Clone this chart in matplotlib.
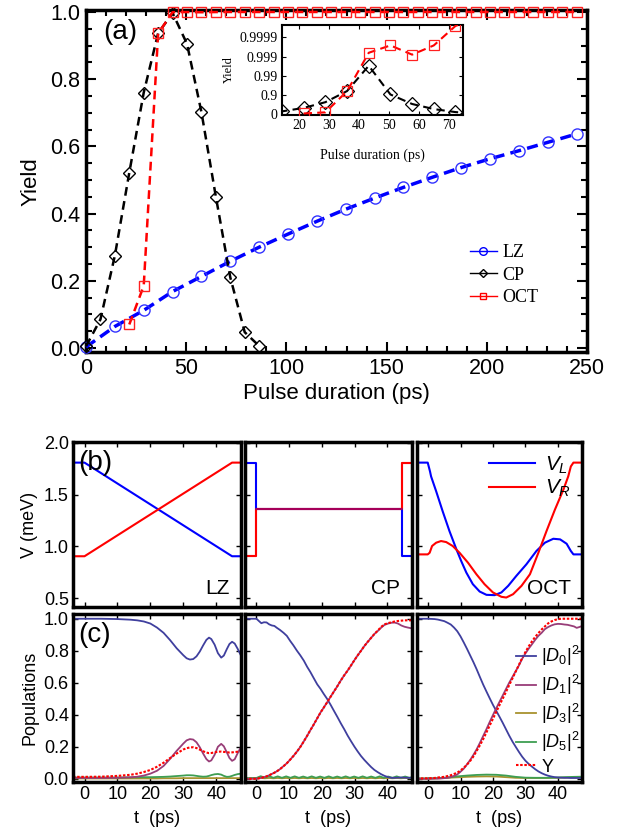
import numpy as np
import matplotlib
matplotlib.use('Agg')
import matplotlib.pyplot as plt
from matplotlib.lines import Line2D
from matplotlib.ticker import MultipleLocator, NullLocator

plt.rcParams['font.family'] = ['Liberation Sans', 'DejaVu Sans']
plt.rcParams['mathtext.fontset'] = 'custom'
plt.rcParams['mathtext.rm'] = 'Liberation Sans'
plt.rcParams['mathtext.it'] = 'Liberation Sans:italic'

# ---------------- panel (a): yield vs pulse duration ----------------
lz_x = [0, 14.4, 28.8, 43.2, 57.6, 72, 86.4, 100.8, 115.2, 129.6, 144, 158.4,
        172.8, 187.2, 201.6, 216, 230.4, 244.8]
lz_y = [0.003, 0.064, 0.112, 0.168, 0.213, 0.258, 0.300, 0.339, 0.377, 0.413,
        0.446, 0.478, 0.508, 0.537, 0.563, 0.587, 0.612, 0.637]

cp_x = [0, 7.2, 14.4, 21.6, 28.8, 36, 43.2, 50.4, 57.6, 64.8, 72, 79.2, 86.4]
cp_y = [0.005, 0.085, 0.275, 0.522, 0.760, 0.937, 0.997, 0.905, 0.702, 0.450,
        0.210, 0.047, 0.006]

oct_x = [21.6, 28.8, 36, 43.2, 50.4, 57.6, 64.8, 72, 79.2, 86.4, 93.6, 100.8,
         108, 115.2, 122.4, 129.6, 136.8, 144, 151.2, 158.4, 165.6, 172.8, 180,
         187.2, 194.4, 201.6, 208.8, 216, 223.2, 230.4, 237.6, 244.8]
oct_y = [0.070, 0.185, 0.936, 0.99937, 0.99974, 0.99921, 0.99974, 0.999975,
         0.99999, 0.99999, 0.99999, 0.99999, 0.99999, 0.99999, 0.99999, 0.99999,
         0.99999, 0.99999, 0.99999, 0.99999, 0.99999, 0.99999, 0.99999, 0.99999,
         0.99999, 0.99999, 0.99999, 0.99999, 0.99999, 0.99999, 0.99999, 0.99999]

# ---------------- panel (b): gate voltages ----------------
t_lz_v = [-3.5, 0, 44.8, 47.5]
vl_lz = [1.81, 1.81, 0.905, 0.905]
vr_lz = [0.905, 0.905, 1.81, 1.81]

t_cp_v = [-3.5, 0, 0, 44.6, 44.6, 47.5]
vl_cp = [1.81, 1.81, 1.36, 1.36, 0.905, 0.905]
vr_cp = [0.905, 0.905, 1.36, 1.36, 1.81, 1.81]

t_oct_vl = [-3.5, -0.1, 0.6, 0.93, 2.5, 4.5, 6.6, 8.7, 10.2, 11.8, 13.8, 15.9,
            18.0, 20.5, 22.6, 24.7, 27.2, 30.3, 33.4, 36.0, 38.6, 40.7, 42.7,
            44.0, 44.8, 47.5]
vl_oct = [1.81, 1.81, 1.725, 1.677, 1.533, 1.34, 1.148, 0.975, 0.86, 0.747,
          0.635, 0.564, 0.532, 0.529, 0.555, 0.619, 0.715, 0.827, 0.956, 1.036,
          1.074, 1.068, 1.026, 0.956, 0.923, 0.923]
t_oct_vr = [-3.5, -0.1, 0.5, 1.24, 2.5, 4.0, 5.6, 7.6, 9.7, 12.3, 14.9, 17.4,
            20.0, 22.6, 24.1, 26.2, 28.8, 31.4, 34.0, 36.5, 39.1, 41.7, 43.2,
            44.0, 44.8, 47.5]
vr_oct = [0.923, 0.923, 0.939, 1.004, 1.036, 1.052, 1.042, 1.004, 0.939, 0.843,
          0.731, 0.635, 0.555, 0.513, 0.506, 0.538, 0.619, 0.731, 0.939, 1.148,
          1.356, 1.548, 1.677, 1.773, 1.81, 1.81]

# ---------------- panel (c): populations ----------------
t_lz = [-3.5, 0, 5, 10, 14, 16, 18, 20, 22, 24, 26, 28, 30, 31, 32, 33, 34, 35,
        36, 37, 37.8, 38.5, 39.5, 40.5, 41.5, 42.3, 43.2, 44, 44.8, 45.6, 46.5,
        47.5]
d0_lz = [1.0, 1.0, 1.0, 0.998, 0.994, 0.99, 0.983, 0.97, 0.945, 0.912, 0.866,
         0.815, 0.772, 0.753, 0.745, 0.748, 0.765, 0.795, 0.833, 0.868, 0.882,
         0.873, 0.838, 0.785, 0.757, 0.77, 0.81, 0.842, 0.856, 0.845, 0.812,
         0.77]
d1_lz = [0.005, 0.005, 0.005, 0.006, 0.009, 0.013, 0.02, 0.032, 0.05, 0.08,
         0.125, 0.175, 0.22, 0.24, 0.248, 0.245, 0.228, 0.197, 0.158, 0.123,
         0.108, 0.115, 0.15, 0.2, 0.218, 0.203, 0.165, 0.13, 0.112, 0.122, 0.16,
         0.198]
y_lz = [0.012, 0.012, 0.013, 0.018, 0.025, 0.032, 0.042, 0.055, 0.075, 0.1,
        0.13, 0.158, 0.183, 0.191, 0.196, 0.197, 0.192, 0.182, 0.172, 0.164,
        0.16, 0.161, 0.165, 0.169, 0.17, 0.168, 0.166, 0.164, 0.165, 0.167,
        0.169, 0.17]
d3_lz = [0.002, 0.002, 0.002, 0.002, 0.002, 0.002, 0.002, 0.002, 0.002, 0.003,
         0.003, 0.003, 0.004, 0.004, 0.004, 0.004, 0.004, 0.004, 0.004, 0.004,
         0.004, 0.004, 0.004, 0.004, 0.004, 0.004, 0.004, 0.004, 0.004, 0.004,
         0.004, 0.004]
d5_lz = [0.008, 0.008, 0.008, 0.008, 0.009, 0.009, 0.01, 0.01, 0.011, 0.012,
         0.014, 0.017, 0.02, 0.022, 0.022, 0.021, 0.018, 0.015, 0.013, 0.014,
         0.018, 0.023, 0.028, 0.03, 0.026, 0.018, 0.012, 0.013, 0.018, 0.024,
         0.029, 0.032]

t_cp = [-3.5, 0, 0.8, 1.5, 2.3, 3.1, 3.9, 4.7, 5.5, 6.2, 7.2, 8.3, 9.3, 10.3,
        11.3, 12.4, 13.4, 14.5, 15.5, 16.5, 17.5, 18.6, 19.6, 20.6, 21.6, 22.7,
        23.7, 24.8, 25.8, 26.9, 27.9, 28.9, 30.0, 31.0, 32.0, 33.0, 34.1, 35.1,
        36.1, 37.2, 38.2, 39.2, 40.3, 41.3, 42.3, 43.3, 44.3, 45.3, 46.3, 47.5]
d0_cp = [1.0, 1.0, 0.985, 0.972, 0.978, 0.977, 0.965, 0.958, 0.955, 0.944, 0.93,
         0.912, 0.893, 0.862, 0.834, 0.8, 0.772, 0.738, 0.7, 0.667, 0.63, 0.59,
         0.562, 0.53, 0.5, 0.462, 0.425, 0.385, 0.347, 0.308, 0.27, 0.236, 0.2,
         0.17, 0.142, 0.118, 0.094, 0.073, 0.055, 0.04, 0.028, 0.018, 0.01,
         0.006, 0.006, 0.007, 0.008, 0.007, 0.006, 0.006]
d1_cp = [0.0, 0.0, 0.003, 0.006, 0.01, 0.015, 0.022, 0.03, 0.038, 0.046, 0.06,
         0.079, 0.097, 0.119, 0.142, 0.17, 0.198, 0.234, 0.268, 0.304, 0.338,
         0.378, 0.414, 0.445, 0.477, 0.513, 0.545, 0.58, 0.614, 0.648, 0.676,
         0.707, 0.742, 0.772, 0.8, 0.829, 0.857, 0.881, 0.905, 0.925, 0.945,
         0.962, 0.97, 0.975, 0.976, 0.97, 0.958, 0.95, 0.945, 0.94]
y_cp = [0.0, 0.0, 0.003, 0.006, 0.01, 0.015, 0.022, 0.03, 0.038, 0.046, 0.06,
        0.079, 0.097, 0.119, 0.142, 0.17, 0.198, 0.234, 0.268, 0.304, 0.338,
        0.378, 0.414, 0.445, 0.477, 0.513, 0.545, 0.58, 0.614, 0.648, 0.676,
        0.707, 0.742, 0.772, 0.8, 0.829, 0.857, 0.881, 0.905, 0.928, 0.95, 0.965,
        0.973, 0.978, 0.983, 0.986, 0.988, 0.99, 0.99, 0.99]
t_cp_w = [-3.5, 0, 1.3, 2.6, 3.9, 5.2, 6.5, 7.8, 9.1, 10.4, 11.7, 13.0, 14.3,
          15.6, 16.9, 18.2, 19.5, 20.8, 22.1, 23.4, 24.7, 26.0, 27.3, 28.6,
          29.9, 31.2, 32.5, 33.8, 35.1, 36.4, 37.7, 39.0, 40.3, 41.6, 42.9,
          44.2, 45.5, 46.8, 47.5]
d5_cp = [0.004, 0.005, 0.016, 0.007, 0.016, 0.006, 0.015, 0.006, 0.015, 0.006,
         0.015, 0.006, 0.014, 0.006, 0.015, 0.006, 0.014, 0.006, 0.015, 0.006,
         0.014, 0.006, 0.015, 0.006, 0.014, 0.006, 0.015, 0.006, 0.014, 0.006,
         0.015, 0.006, 0.014, 0.006, 0.015, 0.006, 0.014, 0.006, 0.01]
d3_cp = [0.002, 0.002, 0.005, 0.003, 0.005, 0.003, 0.005, 0.003, 0.005, 0.003,
         0.005, 0.003, 0.005, 0.003, 0.005, 0.003, 0.005, 0.003, 0.005, 0.003,
         0.005, 0.003, 0.005, 0.003, 0.005, 0.003, 0.005, 0.003, 0.005, 0.003,
         0.005, 0.003, 0.005, 0.003, 0.005, 0.003, 0.005, 0.003, 0.004]

t_oct = [-3.5, 0, 2, 3, 4, 5, 6, 7, 8, 9, 10, 11, 12, 13, 14, 15, 16, 17, 18, 19,
         20, 21, 22, 23, 24, 25, 26, 27, 28, 29, 30, 31, 32, 33, 34, 35, 36, 37,
         38, 39, 40, 41, 42, 43, 44, 45, 45.8, 46.6, 47.5]
d0_oct = [1.0, 1.0, 0.998, 0.995, 0.99, 0.985, 0.975, 0.964, 0.945, 0.922, 0.89,
          0.852, 0.812, 0.77, 0.728, 0.683, 0.635, 0.588, 0.545, 0.503, 0.462,
          0.425, 0.388, 0.35, 0.31, 0.27, 0.233, 0.2, 0.168, 0.138, 0.113, 0.093,
          0.076, 0.06, 0.046, 0.035, 0.026, 0.019, 0.014, 0.01, 0.008, 0.007,
          0.006, 0.006, 0.005, 0.005, 0.005, 0.005, 0.005]
d1_oct = [0.0, 0.0, 0.001, 0.001, 0.002, 0.004, 0.006, 0.01, 0.018, 0.027,
          0.044, 0.063, 0.09, 0.118, 0.15, 0.185, 0.225, 0.268, 0.31, 0.355,
          0.398, 0.44, 0.48, 0.52, 0.56, 0.6, 0.636, 0.672, 0.708, 0.75, 0.783,
          0.813, 0.84, 0.868, 0.893, 0.912, 0.935, 0.948, 0.958, 0.965, 0.968,
          0.967, 0.964, 0.962, 0.957, 0.952, 0.943, 0.948, 0.955]
y_oct = [0.002, 0.003, 0.005, 0.008, 0.01, 0.012, 0.017, 0.022, 0.03, 0.038,
         0.052, 0.069, 0.088, 0.112, 0.14, 0.175, 0.21, 0.248, 0.29, 0.333,
         0.375, 0.417, 0.46, 0.5, 0.542, 0.585, 0.627, 0.669, 0.712, 0.754, 0.792,
         0.827, 0.858, 0.886, 0.91, 0.933, 0.952, 0.971, 0.983, 0.992, 0.997,
         1.0, 1.0, 1.0, 1.0, 1.0, 1.0, 1.0, 1.0]
t_oct_s = [-3.5, 0, 3, 6, 9, 12, 15, 18, 21, 24, 27, 30, 33, 36, 39, 42, 45, 47.5]
d3_oct = [0.001, 0.001, 0.003, 0.006, 0.009, 0.012, 0.014, 0.015, 0.014, 0.01,
          0.006, 0.005, 0.005, 0.005, 0.006, 0.007, 0.008, 0.008]
d5_oct = [0.002, 0.002, 0.004, 0.008, 0.015, 0.02, 0.024, 0.026, 0.025, 0.02,
          0.012, 0.007, 0.006, 0.006, 0.007, 0.01, 0.012, 0.013]

C_D0, C_D1, C_D3, C_D5 = '#3F3F9E', '#983D78', '#A8922E', '#3E9E52'

fig = plt.figure(figsize=(6.39, 8.31), dpi=100)


def frame(ax, lw):
    for s in ax.spines.values():
        s.set_linewidth(lw)


# ---- panel (a)
ax = fig.add_axes([0.1346, 0.5764, 0.7840, 0.4112])
ax.plot(lz_x, lz_y, color='#0000FF', lw=2.5, dashes=(3.2, 1.8), marker='o',
        ms=8, mfc='none', mec='#3333FF', mew=1.0, clip_on=False, zorder=3)
ax.plot(cp_x, cp_y, color='black', lw=1.8, dashes=(3.5, 2.2), marker='D',
        ms=6.5, mfc='none', mec='black', mew=1.0, clip_on=False, zorder=4)
ax.plot(oct_x, oct_y, color='#FF0000', lw=1.8, dashes=(3.5, 2.2), marker='s',
        ms=6.5, mfc='none', mec='#FF2020', mew=1.0, clip_on=False, zorder=4)
ax.set_xlim(0, 250)
ax.set_ylim(-0.012, 1.005)
ax.xaxis.set_major_locator(MultipleLocator(50))
ax.xaxis.set_minor_locator(MultipleLocator(10))
ax.yaxis.set_major_locator(MultipleLocator(0.2))
ax.yaxis.set_minor_locator(MultipleLocator(0.05))
ax.yaxis.set_major_formatter(matplotlib.ticker.FormatStrFormatter('%.1f'))
ax.tick_params(which='both', direction='in', top=True, right=True,
               labelsize=15.5, width=1.5)
ax.tick_params(which='major', length=7, pad=4)
ax.tick_params(which='minor', length=4)
frame(ax, 2.5)
ax.set_xlabel('Pulse duration (ps)', fontsize=16, labelpad=3)
ax.set_ylabel('Yield', fontsize=16, labelpad=6)
ax.text(0.035, 0.975, '(a)', transform=ax.transAxes, fontsize=20,
        ha='left', va='top')
handles = [
    Line2D([], [], color='#0000FF', lw=1, marker='o', ms=5.5, mfc='none'),
    Line2D([], [], color='black', lw=1, marker='D', ms=4.5, mfc='none'),
    Line2D([], [], color='#FF0000', lw=1, marker='s', ms=5, mfc='none'),
]
ax.legend(handles, ['LZ', 'CP', 'OCT'], loc='upper left',
          bbox_to_anchor=(0.766, 0.315), frameon=False, handlelength=1.5,
          handletextpad=0.3, labelspacing=0.3, borderpad=0, borderaxespad=0,
          prop={'family': 'Liberation Serif', 'size': 13})

# ---- inset
def fwd(y):
    return -np.log10(np.clip(1 - np.asarray(y, dtype=float), 1e-8, None))


def inv(t):
    return 1 - 10 ** (-np.asarray(t, dtype=float))


axi = fig.add_axes([0.4413, 0.8616, 0.2833, 0.1083])
axi.set_yscale('function', functions=(fwd, inv))
axi.plot(cp_x, cp_y, color='black', lw=1.5, dashes=(4, 2.5), marker='D',
         ms=7, mfc='none', mec='black', mew=0.9, zorder=3)
axi.plot(oct_x, oct_y, color='#FF0000', lw=1.5, dashes=(4, 2.5), marker='s',
         ms=7.5, mfc='none', mec='#FF2020', mew=0.9, zorder=3)
axi.set_xlim(14.4, 74.5)
axi.set_ylim(float(inv(-0.05)), float(inv(4.65)))
axi.set_xticks([20, 30, 40, 50, 60, 70])
axi.set_yticks([0, 0.9, 0.99, 0.999, 0.9999])
axi.set_yticklabels(['0', '0.9', '0.99', '0.999', '0.9999'])
axi.yaxis.set_minor_locator(NullLocator())
axi.tick_params(direction='in', top=True, right=True, length=3, width=0.8,
                labelsize=10, pad=3)
for lab in axi.get_xticklabels() + axi.get_yticklabels():
    lab.set_family('Liberation Serif')
frame(axi, 1.5)
axi.set_xlabel('Pulse duration (ps)', fontsize=10, family='Liberation Serif',
               labelpad=12)
axi.set_ylabel('Yield', fontsize=9, family='Liberation Serif', labelpad=3)

# ---- panel (b)
b_bottom, b_h = 0.2690, 0.1992
c_bottom, c_h = 0.0590, 0.2022
lefts = [0.1142, 0.3834, 0.6521]
widths = [0.2629, 0.2609, 0.2590]


def small_frame(a):
    a.set_xlim(-3.5, 47.5)
    a.xaxis.set_major_locator(MultipleLocator(10))
    a.tick_params(direction='in', top=True, right=True, length=3.5, width=1,
                  labelsize=13, pad=3)
    frame(a, 2.5)


axb = [fig.add_axes([lefts[i], b_bottom, widths[i], b_h]) for i in range(3)]
axb[0].plot(t_lz_v, vl_lz, color='#0000FF', lw=1.5)
axb[0].plot(t_lz_v, vr_lz, color='#FF0000', lw=1.5)
axb[1].plot(t_cp_v, vr_cp, color='#FF0000', lw=1.5)
axb[1].plot(t_cp_v, vl_cp, color='#0000FF', lw=1.5)
axb[1].plot(t_cp_v, vr_cp, color='#FF0000', lw=1.5, alpha=0.65)
axb[2].plot(t_oct_vl, vl_oct, color='#0000FF', lw=1.5, label='$V_L$')
axb[2].plot(t_oct_vr, vr_oct, color='#FF0000', lw=1.5, label='$V_R$')
for i, (a, name) in enumerate(zip(axb, ['LZ', 'CP', 'OCT'])):
    small_frame(a)
    a.set_ylim(0.41, 2.01)
    a.yaxis.set_major_locator(MultipleLocator(0.5))
    a.yaxis.set_major_formatter(matplotlib.ticker.FormatStrFormatter('%.1f'))
    a.tick_params(labelbottom=False)
    if i > 0:
        a.tick_params(labelleft=False)
    a.text(0.93, 0.06, name, transform=a.transAxes, fontsize=15,
           ha='right', va='bottom')
axb[0].set_ylabel('V (meV)', fontsize=13, labelpad=4)
axb[0].text(0.03, 0.95, '(b)', transform=axb[0].transAxes, fontsize=20,
            ha='left', va='top')
axb[2].legend(loc='upper left', bbox_to_anchor=(0.36, 1.0), frameon=False,
              handlelength=2.2, handletextpad=0.5, labelspacing=0.1,
              borderpad=0.1, fontsize=15)

# ---- panel (c)
axc = [fig.add_axes([lefts[i], c_bottom, widths[i], c_h]) for i in range(3)]
pops = [
    (t_lz, d0_lz, d1_lz, y_lz, t_lz, d3_lz, d5_lz),
    (t_cp, d0_cp, d1_cp, y_cp, t_cp_w, d3_cp, d5_cp),
    (t_oct, d0_oct, d1_oct, y_oct, t_oct_s, d3_oct, d5_oct),
]
for i, (a, p) in enumerate(zip(axc, pops)):
    t, d0, d1, yy, ts, d3, d5 = p
    a.plot(ts, d3, color=C_D3, lw=1.3, label=r'$|D_3|^2$')
    a.plot(ts, d5, color=C_D5, lw=1.3, label=r'$|D_5|^2$')
    a.plot(t, d0, color=C_D0, lw=1.3, label=r'$|D_0|^2$')
    a.plot(t, d1, color=C_D1, lw=1.3, label=r'$|D_1|^2$')
    a.plot(t, yy, color='#FF0000', lw=1.5, dashes=(1.2, 0.8), label='Y')
    small_frame(a)
    a.set_ylim(-0.02, 1.03)
    a.yaxis.set_major_locator(MultipleLocator(0.2))
    a.yaxis.set_major_formatter(matplotlib.ticker.FormatStrFormatter('%.1f'))
    if i > 0:
        a.tick_params(labelleft=False)
    a.set_xlabel('t  (ps)', fontsize=13, labelpad=5)
axc[0].set_ylabel('Populations', fontsize=13, labelpad=4)
axc[0].text(0.03, 0.95, '(c)', transform=axc[0].transAxes, fontsize=20,
            ha='left', va='top')
h, l = axc[2].get_legend_handles_labels()
order = [2, 3, 0, 1, 4]
axc[2].legend([h[k] for k in order], [l[k] for k in order], loc='upper left',
              bbox_to_anchor=(0.6, 0.82), frameon=False, handlelength=1.1,
              handletextpad=0.3, labelspacing=0.25, borderpad=0,
              borderaxespad=0, fontsize=13)

fig.savefig('out.png', dpi=100)
